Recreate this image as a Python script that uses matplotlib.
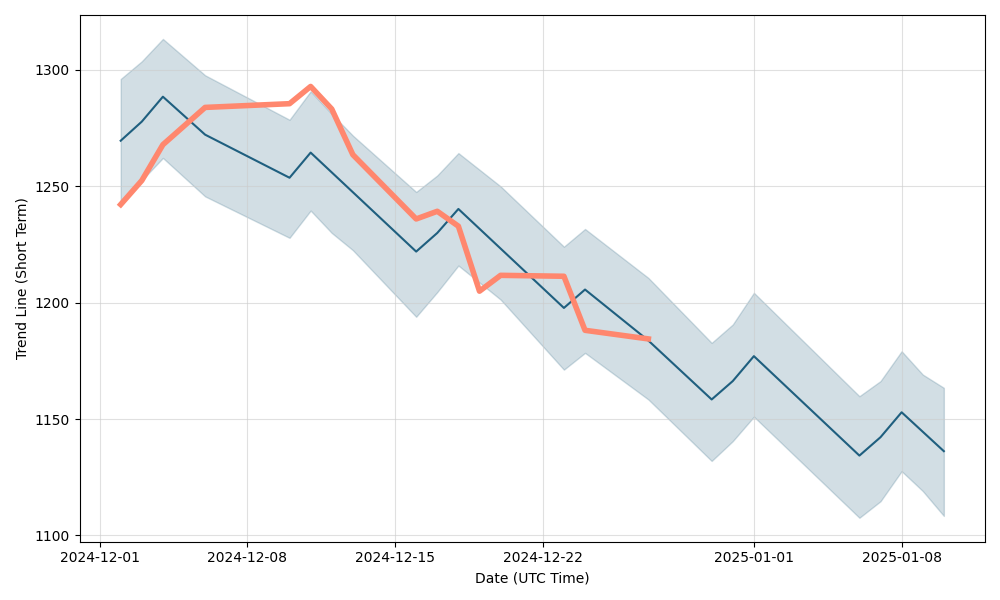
import numpy as np
import pandas as pd
import matplotlib.pyplot as plt

# trend line (vertices only)
trend_dates = ['2024-12-02', '2024-12-03', '2024-12-04', '2024-12-06', '2024-12-10',
               '2024-12-11', '2024-12-16', '2024-12-17', '2024-12-18', '2024-12-23',
               '2024-12-24', '2024-12-27', '2024-12-30', '2024-12-31', '2025-01-01',
               '2025-01-06', '2025-01-07', '2025-01-08', '2025-01-10']
trend = [1269.5, 1277.7, 1288.4, 1272.1, 1253.6,
         1264.4, 1221.9, 1229.9, 1240.2, 1197.7,
         1205.6, 1183.7, 1158.4, 1166.3, 1177.0,
         1134.3, 1142.2, 1152.9, 1136.2]

# uncertainty band
band_dates = ['2024-12-02', '2024-12-03', '2024-12-04', '2024-12-06', '2024-12-10',
              '2024-12-11', '2024-12-12', '2024-12-13', '2024-12-16', '2024-12-17',
              '2024-12-18', '2024-12-20', '2024-12-23', '2024-12-24', '2024-12-27',
              '2024-12-30', '2024-12-31', '2025-01-01', '2025-01-06', '2025-01-07',
              '2025-01-08', '2025-01-09', '2025-01-10']
band_upper = [1296.0, 1303.6, 1313.2, 1297.6, 1278.5,
              1290.7, 1281.0, 1271.7, 1247.5, 1254.6,
              1264.2, 1249.9, 1224.0, 1231.6, 1210.6,
              1182.7, 1190.6, 1204.2, 1159.8, 1166.3,
              1179.1, 1169.1, 1163.4]
band_lower = [1243.5, 1252.5, 1262.1, 1245.6, 1227.8,
              1239.5, 1229.9, 1222.5, 1193.9, 1204.5,
              1215.9, 1201.3, 1171.2, 1178.4, 1158.4,
              1132.0, 1140.5, 1151.0, 1107.6, 1114.7,
              1127.6, 1119.1, 1108.4]

# actual values
actual_dates = ['2024-12-02', '2024-12-03', '2024-12-04', '2024-12-06', '2024-12-10',
                '2024-12-11', '2024-12-12', '2024-12-13', '2024-12-16', '2024-12-17',
                '2024-12-18', '2024-12-19', '2024-12-20', '2024-12-23', '2024-12-24',
                '2024-12-27']
actual = [1242.1, 1252.4, 1267.8, 1283.8, 1285.4,
          1292.8, 1283.1, 1263.5, 1235.9, 1239.2,
          1232.8, 1204.9, 1211.7, 1211.3, 1188.1,
          1184.4]

fig, ax = plt.subplots(figsize=(10, 6))
ax.fill_between(pd.to_datetime(band_dates), band_lower, band_upper,
                color='#1f5c7a', alpha=0.2)
ax.plot(pd.to_datetime(trend_dates), trend, color='#1f5f7f', linewidth=1.5)
ax.plot(pd.to_datetime(actual_dates), actual, color='#ff876e', linewidth=4)
ax.grid(True, color='#cccccc', alpha=0.6)
ax.set_xlabel('Date (UTC Time)')
ax.set_ylabel('Trend Line (Short Term)')
plt.tight_layout()
plt.savefig('out.png', dpi=100)
